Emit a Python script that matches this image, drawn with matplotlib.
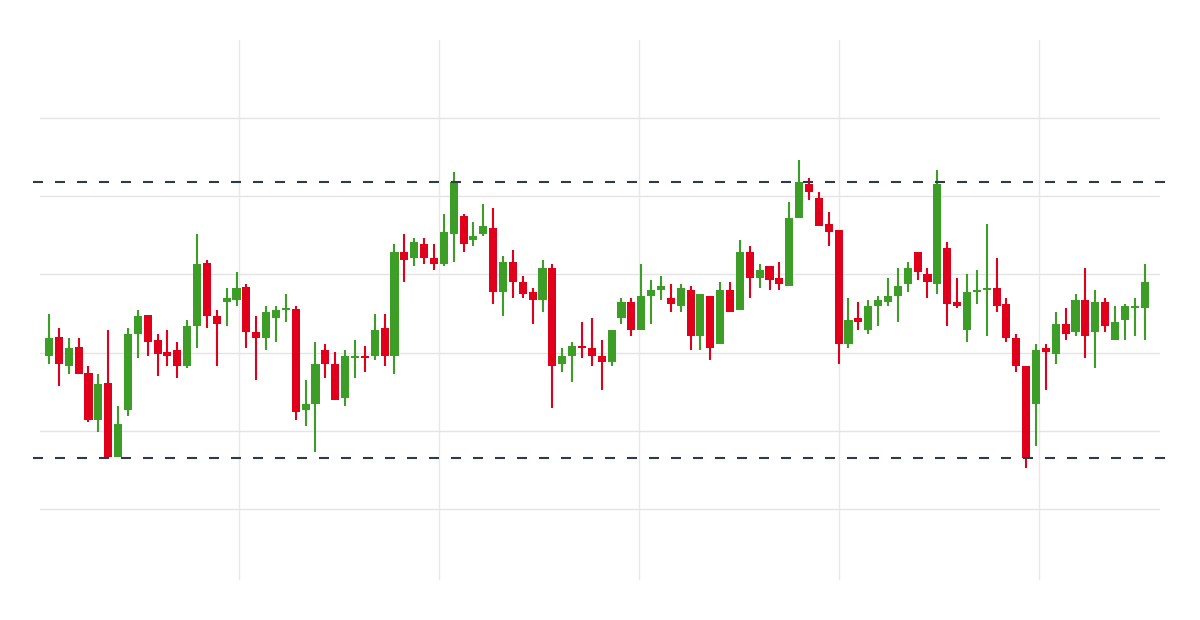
import numpy as np
import matplotlib
matplotlib.use("Agg")
import matplotlib.pyplot as plt

# OHLC values (arbitrary price units, no axis labels shown)
opens = [244, 263, 234, 253, 227, 180, 217, 143, 190, 266,
         285, 260, 248, 250, 234, 274, 337, 284, 298, 300,
         313, 268, 262, 282, 290, 291, 190, 196, 250, 236,
         202, 242, 244, 244, 272, 244, 348, 342, 356, 342,
         336, 366, 384, 360, 366, 372, 308, 338, 318, 308,
         300, 332, 236, 244, 254, 252, 244, 238, 282, 298,
         270, 304, 310, 302, 294, 310, 264, 304, 256, 310,
         290, 348, 322, 334, 322, 314, 382, 416, 402, 376,
         370, 256, 282, 270, 294, 298, 304, 316, 348, 326,
         316, 352, 298, 270, 308, 310, 312, 296, 262, 234,
         196, 252, 246, 276, 268, 300, 268, 298, 260, 280,
         292, 292]
closes = [262, 236, 252, 226, 180, 216, 143, 176, 266, 284,
          258, 246, 244, 234, 274, 336, 284, 276, 302, 312,
          268, 262, 288, 290, 292, 188, 196, 236, 236, 200,
          244, 244, 242, 270, 244, 348, 340, 358, 342, 336,
          368, 418, 356, 364, 374, 308, 338, 318, 306, 300,
          332, 234, 244, 254, 252, 244, 238, 270, 298, 270,
          304, 310, 314, 296, 312, 264, 306, 252, 310, 288,
          348, 322, 330, 320, 316, 382, 418, 408, 374, 368,
          256, 280, 278, 294, 300, 304, 314, 332, 328, 318,
          416, 296, 294, 308, 310, 312, 294, 262, 234, 142,
          250, 248, 276, 266, 300, 264, 298, 274, 278, 294,
          294, 318]
highs = [286, 272, 262, 262, 234, 226, 270, 194, 272, 290,
         285, 266, 270, 258, 280, 366, 340, 290, 312, 328,
         316, 284, 294, 294, 306, 294, 220, 258, 256, 248,
         250, 260, 254, 286, 286, 356, 366, 362, 362, 356,
         386, 428, 386, 378, 396, 392, 344, 350, 324, 312,
         340, 336, 252, 258, 278, 282, 260, 270, 302, 302,
         336, 320, 324, 316, 316, 314, 306, 304, 318, 318,
         360, 354, 336, 334, 338, 398, 440, 422, 408, 388,
         370, 302, 298, 300, 304, 322, 332, 338, 348, 332,
         430, 358, 322, 326, 330, 376, 342, 302, 266, 234,
         256, 256, 288, 292, 306, 332, 310, 302, 294, 296,
         302, 336]
lows = [236, 214, 226, 226, 178, 168, 142, 143, 184, 242,
        244, 224, 234, 222, 232, 252, 272, 234, 274, 294,
        252, 220, 250, 258, 278, 180, 174, 148, 222, 200,
        194, 222, 228, 240, 234, 226, 318, 334, 336, 330,
        334, 338, 348, 354, 364, 296, 284, 302, 302, 276,
        288, 192, 228, 218, 242, 234, 210, 234, 276, 264,
        270, 276, 300, 288, 288, 250, 250, 240, 256, 288,
        290, 302, 312, 310, 310, 314, 382, 400, 374, 354,
        236, 252, 270, 266, 274, 294, 278, 308, 320, 302,
        306, 274, 292, 258, 296, 264, 288, 258, 228, 132,
        154, 210, 236, 260, 264, 242, 232, 268, 260, 260,
        264, 260]

# support / resistance levels and grid positions
levels = [418, 142]
hgrid = [91, 169, 247.5, 326, 404, 482]
vgrid = [19.25, 39.51, 59.78, 80.04, 100.3]

green = "#3d9e27"
red = "#e0001c"

opens = np.array(opens)
closes = np.array(closes)
highs = np.array(highs)
lows = np.array(lows)
x = np.arange(len(opens))
up = closes >= opens
colors = np.where(up, green, red)

fig = plt.figure(figsize=(12, 6.2), dpi=100)
ax = fig.add_axes([40/1200, 40/620, 1120/1200, 540/620])

for v in vgrid:
    ax.axvline(v, color="#e8e8e8", lw=1, zorder=0)
for h in hgrid:
    ax.axhline(h, color="#e4e4e4", lw=1, zorder=0)

ax.vlines(x, lows, highs, colors=colors, lw=1.5, zorder=2)
ax.bar(x, closes - opens, bottom=opens, width=0.82, color=colors, zorder=3)

for lv in levels:
    ax.plot([-1.6, 113.3], [lv, lv], color="#2f3a4a", lw=1.5,
            linestyle=(0, (4.8, 5.76)), clip_on=False, zorder=4)

ax.set_xlim(-0.912, 112.56)
ax.set_ylim(20, 560)
ax.set_xticks([])
ax.set_yticks([])
for s in ax.spines.values():
    s.set_visible(False)

plt.savefig("out.png", dpi=100)
